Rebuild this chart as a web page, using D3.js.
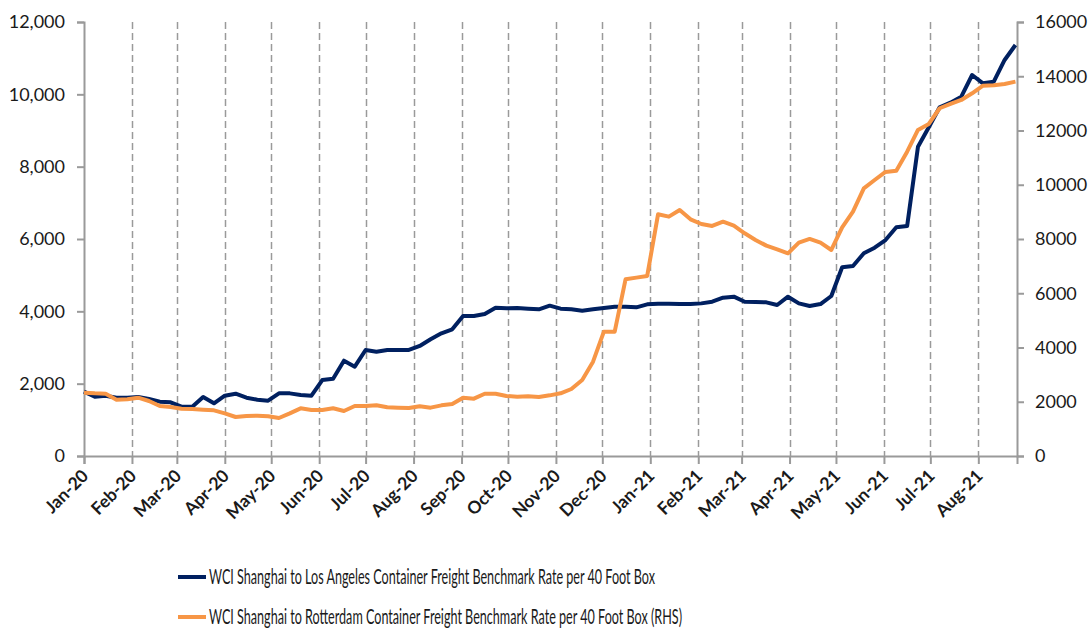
<!DOCTYPE html>
<html>
<head>
<meta charset="utf-8">
<script src="https://cdn.jsdelivr.net/npm/d3@7/dist/d3.min.js"></script>
<style>
  html, body { margin: 0; padding: 0; background: #fff; }
  svg { display: block; }
  text { font-family: Lato, "Open Sans", "DejaVu Sans", sans-serif; fill: #1a1a1a; }
</style>
</head>
<body>
<svg id="chart" width="1088" height="628"></svg>
<script>
// ---- Data (weekly) ----
const startDate = "2020-01-01";
const weekCount = 87;

const laRates = [
  1780, 1640, 1668, 1612, 1612, 1630, 1576, 1502, 1484, 1364,
  1364, 1630, 1456, 1668, 1723, 1612, 1557, 1530, 1732, 1732,
  1687, 1668, 2101, 2138, 2636, 2470, 2931, 2885, 2931, 2931,
  2931, 3042, 3226, 3392, 3503, 3871, 3871, 3926, 4101, 4083,
  4092, 4074, 4055, 4156, 4074, 4055, 4018, 4055, 4092, 4129,
  4129, 4110, 4193, 4211, 4211, 4202, 4202, 4220, 4266, 4377,
  4405, 4266, 4257, 4248, 4175, 4405, 4220, 4147, 4202, 4424,
  5217, 5254, 5604, 5760, 5972, 6323, 6360, 8553, 9088, 9641,
  9770, 9935, 10535, 10305, 10350, 10950, 11364
];

const rotterdamRates = [
  2334, 2310, 2297, 2076, 2089, 2150, 2028, 1843, 1807, 1745,
  1733, 1708, 1684, 1573, 1438, 1475, 1487, 1463, 1401, 1573,
  1758, 1696, 1696, 1758, 1659, 1843, 1843, 1868, 1794, 1782,
  1770, 1831, 1782, 1868, 1917, 2150, 2113, 2297, 2297, 2212,
  2187, 2199, 2175, 2236, 2310, 2470, 2802, 3478, 4584, 4584,
  6514, 6576, 6637, 8910, 8824, 9070, 8726, 8554, 8480, 8640,
  8493, 8210, 7964, 7755, 7620, 7472, 7866, 8001, 7866, 7595,
  8431, 9009, 9869, 10175, 10471, 10520, 11220, 12020, 12240, 12820,
  12978, 13126, 13372, 13653, 13667, 13716, 13801
];

const leftTicks = [0, 2000, 4000, 6000, 8000, 10000, 12000];
const rightTicks = [0, 2000, 4000, 6000, 8000, 10000, 12000, 14000, 16000];
const xDomain = ["2020-01-01", "2021-08-26"];
const monthTickRange = ["2020-01-01", "2021-08-02"];

const seriesNames = [
  "WCI Shanghai to Los Angeles Container Freight Benchmark Rate per 40 Foot Box",
  "WCI Shanghai to Rotterdam Container Freight Benchmark Rate per 40 Foot Box (RHS)"
];

// ---- Layout ----
const parse = d3.utcParse("%Y-%m-%d");
const dates = d3.range(weekCount).map(i => d3.utcDay.offset(parse(startDate), 7 * i));

const plot = { left: 84, right: 1017, top: 22, bottom: 456 };
const colors = ["#002060", "#F79646"];
const axisColor = "#9a9a9a";

const svg = d3.select("#chart");

const x = d3.scaleUtc().domain(xDomain.map(parse)).range([plot.left, plot.right]);
const yL = d3.scaleLinear().domain([0, 12000]).range([plot.bottom, plot.top]);
const yR = d3.scaleLinear().domain([0, 16000]).range([plot.bottom, plot.top]);

const monthTicks = d3.utcMonth.range(parse(monthTickRange[0]), d3.utcDay.offset(parse(monthTickRange[1]), 1));

// Vertical dashed gridlines
svg.append("g")
  .selectAll("line")
  .data(monthTicks.slice(1))
  .join("line")
  .attr("x1", d => Math.round(x(d)) + 0.5)
  .attr("x2", d => Math.round(x(d)) + 0.5)
  .attr("y1", plot.top)
  .attr("y2", plot.bottom)
  .attr("stroke", axisColor)
  .attr("stroke-width", 1.5)
  .attr("stroke-dasharray", "7,4");

// Left axis
const gL = svg.append("g").attr("transform", `translate(${plot.left},0)`)
  .call(d3.axisLeft(yL).tickValues(leftTicks).tickFormat(d3.format(",")).tickSize(7).tickPadding(12));
// Right axis
const gR = svg.append("g").attr("transform", `translate(${plot.right},0)`)
  .call(d3.axisRight(yR).tickValues(rightTicks).tickFormat(d3.format("d")).tickSize(7).tickPadding(11));
// Bottom axis
const gB = svg.append("g").attr("transform", `translate(0,${plot.bottom})`)
  .call(d3.axisBottom(x).tickValues(monthTicks).tickFormat(d3.utcFormat("%b-%y")).tickSize(8).tickPadding(4));

[gL, gR, gB].forEach(g => {
  g.select(".domain").attr("stroke", axisColor).attr("stroke-width", 2);
  g.selectAll(".tick line").attr("stroke", axisColor).attr("stroke-width", 2);
  g.selectAll("text").attr("font-family", "Lato, 'Open Sans', sans-serif").attr("fill", "#1a1a1a");
});
gL.selectAll("text").attr("font-size", 18);
gR.selectAll("text").attr("font-size", 18);
gB.selectAll("text")
  .attr("font-size", 17.5)
  .attr("font-weight", "bold")
  .attr("text-anchor", "end")
  .attr("dy", null)
  .attr("y", 0)
  .attr("transform", "translate(5,21) rotate(-45)");

// Lines
const lineL = d3.line().x((d, i) => x(dates[i])).y(d => yL(d));
const lineR = d3.line().x((d, i) => x(dates[i])).y(d => yR(d));

svg.append("path")
  .datum(laRates)
  .attr("fill", "none")
  .attr("stroke", colors[0])
  .attr("stroke-width", 4)
  .attr("stroke-linejoin", "round")
  .attr("d", lineL);

svg.append("path")
  .datum(rotterdamRates)
  .attr("fill", "none")
  .attr("stroke", colors[1])
  .attr("stroke-width", 4)
  .attr("stroke-linejoin", "round")
  .attr("d", lineR);

// Legend
const legend = svg.append("g");
const legendRows = [
  { y: 577, width: 446 },
  { y: 617, width: 473 }
];
seriesNames.forEach((name, i) => {
  const row = legendRows[i];
  legend.append("line")
    .attr("x1", 178).attr("x2", 206)
    .attr("y1", row.y).attr("y2", row.y)
    .attr("stroke", colors[i]).attr("stroke-width", 4);
  legend.append("text")
    .attr("x", 209)
    .attr("y", row.y + 7)
    .attr("font-size", 21)
    .attr("textLength", row.width)
    .attr("lengthAdjust", "spacingAndGlyphs")
    .text(name);
});
</script>
</body>
</html>
